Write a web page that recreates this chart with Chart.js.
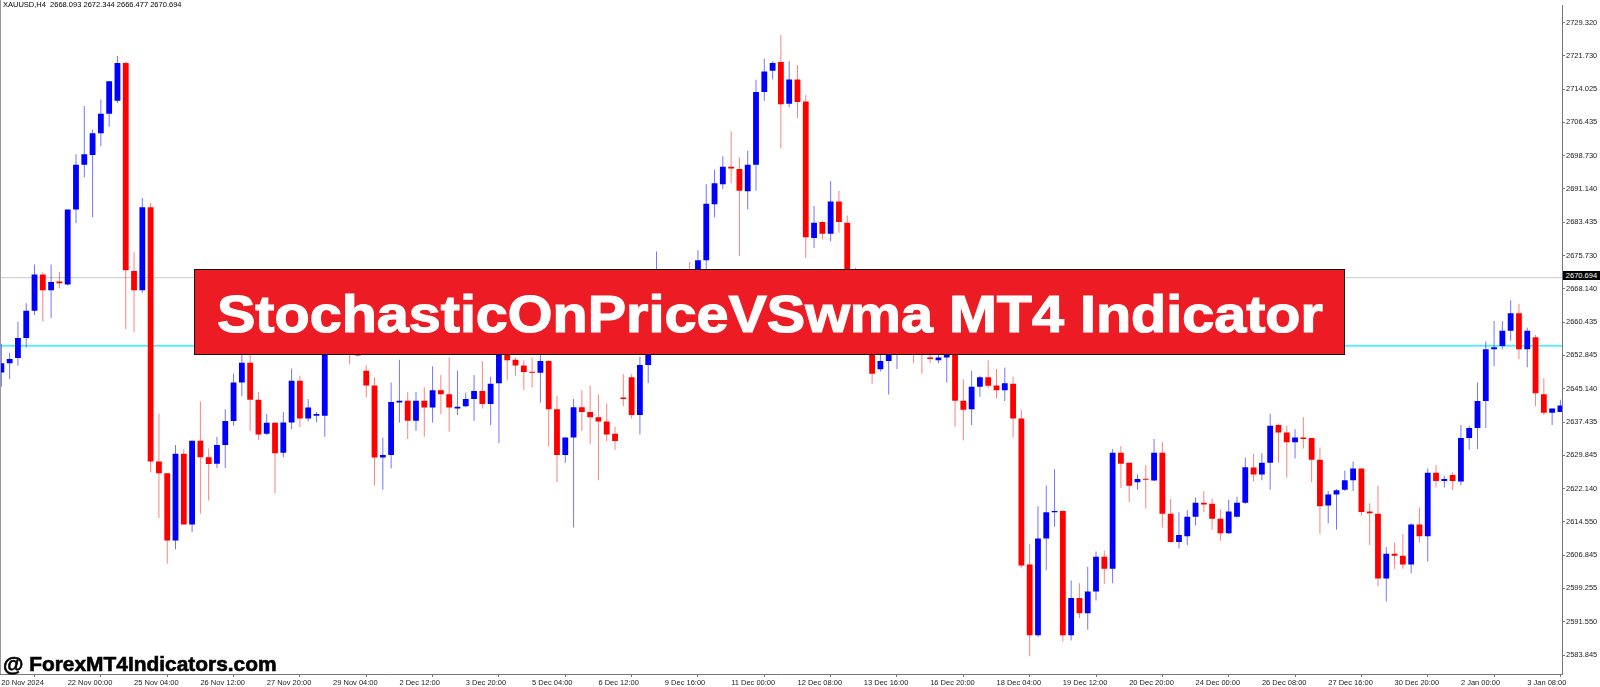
<!DOCTYPE html>
<html>
<head>
<meta charset="utf-8">
<title>XAUUSD,H4</title>
<script src="https://cdn.jsdelivr.net/npm/chart.js@4.4.0/dist/chart.umd.min.js"></script>
<style>
  html, body { margin: 0; padding: 0; background: #fff; }
  #wrap { position: relative; width: 1600px; height: 687px; overflow: hidden; }
  #chart { display: block; }
  .leftedge { position: absolute; left: 0; top: 0; width: 1px; height: 674px; background: #9a9a9a; }
  .hdr {
    position: absolute; left: 3px; top: 0; line-height: 9px;
    font: 7.5px "Liberation Sans", Arial, sans-serif; color: #000; white-space: pre;
  }
  .bidbox {
    position: absolute; left: 1563px; top: 271px; width: 37px; height: 9px;
    background: #000; color: #fff; line-height: 9px; text-align: center;
    font: 7.5px "Liberation Sans", Arial, sans-serif;
  }
  .banner {
    position: absolute; left: 194px; top: 269px; width: 1151px; height: 86px;
    box-sizing: border-box; border: 1px solid #111; background: #ed1c24;
    display: flex; align-items: center; justify-content: center;
  }
  .banner span {
    display: inline-block; position: relative; top: 2px;
    transform: scaleX(1.106);
    color: #fff; font: bold 52px "Liberation Sans", Arial, sans-serif; white-space: nowrap;
    -webkit-text-stroke: 1.2px #fff;
  }
  .mark {
    position: absolute; left: 3px; top: 653px; line-height: 20px;
    transform: scaleX(1.045); transform-origin: 0 0;
    font: bold 20px "Liberation Sans", Arial, sans-serif; color: #000; white-space: nowrap;
    -webkit-text-stroke: 0.6px #000;
  }
</style>
</head>
<body>
<div id="wrap">
  <canvas id="chart" width="1600" height="687"></canvas>
  <div class="leftedge"></div>
  <div class="hdr">XAUUSD,H4  2668.093 2672.344 2666.477 2670.694</div>
  <div class="bidbox">2670.694</div>
  <div class="banner"><span>StochasticOnPriceVSwma MT4 Indicator</span></div>
  <div class="mark">@ ForexMT4Indicators.com</div>
</div>
<script>
// H4 candles, one entry per bar (bar 0 = 20 Nov 2024 16:00)
const opens = [
  2648.9, 2651.0, 2652.2, 2656.8, 2663.1, 2671.4, 2667.8, 2669.8, 2669.1, 2686.4,
  2696.7, 2698.9, 2703.9, 2708.4, 2711.4, 2720.1, 2672.2, 2667.8, 2686.9, 2628.4,
  2625.7, 2610.2, 2630.2, 2613.9, 2633.2, 2629.4, 2627.9, 2632.2, 2637.7, 2646.6,
  2651.1, 2642.6, 2634.8, 2637.3, 2630.4, 2637.4, 2647.0, 2638.3, 2638.9, 2638.9,
  2655.5, 2660.2, 2657.0, 2653.5, 2649.3, 2645.9, 2629.3, 2629.9, 2642.0, 2642.4,
  2637.8, 2642.4, 2640.8, 2644.8, 2643.9, 2640.6, 2641.1, 2642.8, 2644.6, 2641.6,
  2646.4, 2653.0, 2651.8, 2650.5, 2649.0, 2648.8, 2651.5, 2640.4, 2629.9, 2633.9,
  2640.9, 2639.8, 2638.6, 2637.6, 2634.8, 2643.1, 2647.8, 2639.1, 2650.6, 2656.5,
  2663.0, 2661.0, 2665.5, 2670.5, 2671.5, 2674.7, 2687.6, 2692.2, 2696.2, 2695.7,
  2690.6, 2696.7, 2713.4, 2718.3, 2720.3, 2710.7, 2716.3, 2711.2, 2679.8, 2683.5,
  2680.8, 2688.2, 2683.3, 2664.0, 2659.5, 2656.0, 2649.6, 2651.5, 2653.5, 2656.0,
  2657.5, 2654.0, 2652.3, 2651.7, 2652.3, 2655.5, 2642.4, 2640.4, 2645.6, 2647.8,
  2645.9, 2644.8, 2646.3, 2638.3, 2604.7, 2588.4, 2610.7, 2616.7, 2617.0, 2588.4,
  2597.0, 2593.5, 2598.5, 2606.5, 2603.7, 2630.4, 2628.1, 2623.6, 2624.4, 2624.0,
  2630.4, 2616.4, 2609.9, 2611.2, 2615.7, 2618.9, 2618.7, 2615.2, 2611.9, 2615.7,
  2618.9, 2627.0, 2625.4, 2628.1, 2636.8, 2635.1, 2632.8, 2633.9, 2633.8, 2628.8,
  2618.3, 2620.8, 2621.9, 2624.1, 2626.8, 2616.9, 2616.4, 2601.5, 2607.2, 2606.7,
  2604.7, 2613.9, 2611.2, 2625.8, 2623.9, 2625.3, 2623.8, 2633.8, 2636.1, 2642.3,
  2654.2, 2655.0, 2658.5, 2662.5, 2654.2, 2657.0, 2643.9, 2639.6, 2639.8
];
const highs = [
  2655.5, 2653.4, 2660.6, 2664.8, 2673.7, 2671.9, 2673.7, 2672.0, 2686.4, 2699.1,
  2710.2, 2704.7, 2711.7, 2715.9, 2721.7, 2720.4, 2676.6, 2689.0, 2687.9, 2639.4,
  2625.7, 2632.2, 2631.2, 2633.2, 2642.2, 2631.4, 2634.1, 2640.4, 2648.6, 2653.0,
  2653.0, 2644.4, 2639.3, 2637.5, 2639.8, 2649.8, 2648.1, 2642.8, 2639.8, 2657.0,
  2663.0, 2662.5, 2659.0, 2656.0, 2650.5, 2647.8, 2633.9, 2646.6, 2651.8, 2644.4,
  2644.4, 2645.4, 2650.3, 2648.3, 2652.3, 2649.3, 2644.3, 2648.3, 2651.5, 2647.9,
  2654.5, 2654.0, 2652.3, 2651.7, 2652.3, 2653.5, 2651.7, 2643.6, 2633.9, 2642.8,
  2644.8, 2645.9, 2643.8, 2641.8, 2636.4, 2648.5, 2648.5, 2652.5, 2658.5, 2676.7,
  2667.0, 2668.5, 2672.3, 2674.3, 2677.0, 2692.2, 2695.6, 2698.6, 2704.4, 2698.4,
  2699.9, 2716.2, 2721.1, 2720.5, 2726.5, 2720.5, 2719.6, 2712.7, 2687.2, 2683.7,
  2692.9, 2690.7, 2685.0, 2673.0, 2662.0, 2658.0, 2653.0, 2655.0, 2658.0, 2660.5,
  2659.0, 2656.0, 2654.5, 2654.0, 2657.0, 2656.5, 2647.3, 2649.3, 2648.1, 2651.7,
  2649.7, 2650.0, 2647.9, 2640.3, 2609.5, 2618.1, 2622.9, 2626.6, 2617.2, 2601.0,
  2600.4, 2604.2, 2607.7, 2607.9, 2631.3, 2631.9, 2628.1, 2625.4, 2627.6, 2633.6,
  2632.8, 2619.8, 2616.7, 2617.2, 2620.1, 2621.6, 2619.9, 2617.4, 2619.6, 2620.3,
  2629.3, 2630.1, 2630.3, 2639.4, 2637.1, 2636.6, 2635.8, 2638.6, 2633.8, 2631.6,
  2621.6, 2622.1, 2626.3, 2628.4, 2626.8, 2618.8, 2622.8, 2608.7, 2609.7, 2611.7,
  2614.2, 2617.8, 2626.8, 2627.6, 2625.1, 2625.9, 2636.8, 2636.6, 2646.6, 2656.0,
  2660.7, 2660.7, 2665.5, 2664.7, 2659.2, 2657.5, 2647.6, 2640.6, 2642.6
];
const lows = [
  2645.6, 2647.4, 2650.4, 2654.6, 2662.1, 2660.6, 2661.4, 2668.2, 2668.9, 2683.2,
  2693.8, 2684.6, 2700.9, 2705.4, 2710.9, 2658.9, 2658.2, 2667.2, 2625.9, 2615.4,
  2604.9, 2608.2, 2613.9, 2612.2, 2616.4, 2619.4, 2626.9, 2626.9, 2636.6, 2643.4,
  2635.4, 2633.4, 2634.5, 2621.1, 2629.4, 2635.8, 2636.3, 2637.6, 2637.4, 2634.1,
  2654.0, 2655.0, 2650.8, 2652.6, 2643.1, 2622.9, 2621.9, 2626.8, 2637.3, 2633.6,
  2635.4, 2634.1, 2637.3, 2639.3, 2635.3, 2639.1, 2640.9, 2637.8, 2640.6, 2636.8,
  2632.6, 2647.1, 2648.1, 2644.8, 2645.4, 2641.9, 2631.9, 2623.6, 2628.1, 2613.2,
  2635.4, 2632.4, 2624.1, 2633.1, 2631.1, 2641.1, 2638.3, 2634.6, 2646.4, 2655.0,
  2658.0, 2659.5, 2663.0, 2665.5, 2669.0, 2672.3, 2684.6, 2691.1, 2692.4, 2675.7,
  2686.4, 2690.7, 2711.4, 2716.3, 2700.4, 2709.9, 2707.4, 2675.3, 2677.5, 2679.5,
  2679.0, 2681.0, 2661.0, 2657.0, 2653.5, 2646.3, 2649.1, 2643.8, 2649.7, 2653.0,
  2651.0, 2648.6, 2651.0, 2651.0, 2646.6, 2636.4, 2633.3, 2636.8, 2643.3, 2645.3,
  2642.9, 2642.3, 2633.9, 2604.0, 2583.6, 2588.0, 2603.4, 2613.4, 2587.0, 2587.2,
  2592.4, 2589.7, 2596.4, 2600.2, 2600.4, 2622.3, 2619.1, 2621.9, 2617.6, 2623.9,
  2613.2, 2609.7, 2608.4, 2609.2, 2613.7, 2616.7, 2612.7, 2610.2, 2611.7, 2615.5,
  2618.6, 2623.8, 2624.1, 2621.9, 2628.1, 2624.8, 2629.1, 2631.4, 2623.6, 2611.7,
  2614.2, 2612.7, 2621.6, 2621.6, 2615.9, 2609.2, 2599.7, 2596.2, 2603.7, 2603.7,
  2602.7, 2609.7, 2605.4, 2622.4, 2622.4, 2621.8, 2622.9, 2631.1, 2631.3, 2636.1,
  2650.3, 2654.2, 2656.2, 2652.0, 2650.1, 2641.1, 2639.1, 2636.8, 2639.8
];
const closes = [
  2651.0, 2652.0, 2656.8, 2663.1, 2671.4, 2667.8, 2669.7, 2669.4, 2686.4, 2696.7,
  2699.1, 2703.9, 2708.4, 2715.9, 2720.1, 2672.4, 2667.8, 2686.9, 2628.4, 2625.7,
  2610.2, 2630.2, 2613.9, 2633.2, 2629.4, 2627.8, 2632.2, 2637.7, 2646.6, 2651.1,
  2642.6, 2634.6, 2637.3, 2630.3, 2637.4, 2647.0, 2638.3, 2640.8, 2639.3, 2655.5,
  2660.2, 2657.0, 2653.5, 2652.8, 2645.9, 2629.3, 2629.9, 2642.1, 2642.4, 2637.8,
  2642.4, 2640.8, 2644.8, 2643.9, 2640.8, 2641.0, 2642.8, 2644.6, 2641.6, 2646.3,
  2653.0, 2651.7, 2650.5, 2649.0, 2648.8, 2651.5, 2640.4, 2629.9, 2633.9, 2640.9,
  2639.8, 2638.6, 2637.6, 2634.6, 2633.1, 2642.8, 2639.1, 2650.6, 2656.5, 2663.0,
  2661.0, 2665.5, 2670.5, 2668.0, 2674.7, 2687.7, 2692.4, 2696.2, 2695.8, 2690.7,
  2696.7, 2713.4, 2718.1, 2720.1, 2710.6, 2716.3, 2711.1, 2680.0, 2683.3, 2680.8,
  2688.2, 2683.5, 2664.0, 2659.5, 2656.0, 2648.6, 2651.5, 2653.5, 2656.0, 2657.5,
  2654.0, 2653.0, 2652.0, 2652.3, 2655.5, 2642.4, 2640.3, 2645.6, 2647.8, 2645.8,
  2644.8, 2646.4, 2638.3, 2604.5, 2588.4, 2610.7, 2616.7, 2617.0, 2588.4, 2597.0,
  2593.5, 2598.5, 2606.5, 2603.7, 2630.4, 2627.9, 2622.8, 2624.4, 2624.2, 2630.4,
  2616.4, 2609.9, 2611.5, 2615.7, 2618.9, 2618.5, 2615.2, 2611.9, 2616.9, 2618.9,
  2627.1, 2625.4, 2628.1, 2636.6, 2635.1, 2632.8, 2633.9, 2633.6, 2628.8, 2618.1,
  2620.8, 2621.8, 2624.1, 2626.8, 2616.8, 2616.5, 2601.5, 2607.2, 2606.7, 2604.7,
  2613.9, 2611.2, 2625.8, 2623.9, 2624.4, 2623.9, 2633.8, 2636.1, 2642.3, 2654.2,
  2654.7, 2658.5, 2662.5, 2654.2, 2658.5, 2644.1, 2639.6, 2640.6, 2641.3
];

// time axis labels, one every 8 bars
const xTickBars = [0, 8, 16, 24, 32, 40, 48, 56, 64, 72, 80, 88, 96, 104, 112, 120, 128, 136, 144, 152, 160, 168, 176, 184];
const xTickLabels = [
  '20 Nov 2024', '22 Nov 00:00', '25 Nov 04:00', '26 Nov 12:00', '27 Nov 20:00', '29 Nov 04:00',
  '2 Dec 12:00', '3 Dec 20:00', '5 Dec 04:00', '6 Dec 12:00', '9 Dec 16:00', '11 Dec 00:00',
  '12 Dec 08:00', '13 Dec 16:00', '16 Dec 20:00', '18 Dec 04:00', '19 Dec 12:00', '20 Dec 20:00',
  '24 Dec 00:00', '26 Dec 08:00', '27 Dec 16:00', '30 Dec 20:00', '2 Jan 00:00', '3 Jan 08:00'
];

// price scale labels
const yTickValues = [
  2729.320, 2721.730, 2714.025, 2706.435, 2698.730, 2691.140, 2683.435, 2675.730, 2668.140, 2660.435,
  2652.845, 2645.140, 2637.435, 2629.845, 2622.140, 2614.550, 2606.845, 2599.255, 2591.550, 2583.845
];

const bidPrice = 2670.694;   // grey bid line
const levelPrice = 2655.0;   // cyan horizontal level

// visible window of the chart
const X_MIN = -0.163, X_MAX = 188.19;
const Y_MIN = 2579.51, Y_MAX = 2733.31;

const BULL = '#0000ff', BEAR = '#ff0000';
const BULL_WICK = 'rgba(0,0,255,0.55)', BEAR_WICK = 'rgba(255,0,0,0.5)';

const isBull = (i) => closes[i] >= opens[i];

const tickFont = { family: '"Liberation Sans", Arial, sans-serif', size: 7.5 };

const levelData = (price) => [{ x: X_MIN, y: price }, { x: X_MAX, y: price }];

new Chart(document.getElementById('chart'), {
  type: 'bar',
  data: {
    datasets: [
      {
        type: 'line', label: 'bid', data: levelData(bidPrice),
        borderColor: '#c8c8c8', borderWidth: 1, pointRadius: 0, order: 3
      },
      {
        type: 'line', label: 'level', data: levelData(levelPrice),
        borderColor: '#00f2ff', borderWidth: 1.2, pointRadius: 0, order: 3
      },
      {
        label: 'wicks',
        data: lows.map((l, i) => ({ x: i, y: [l, highs[i]] })),
        backgroundColor: (c) => isBull(c.dataIndex) ? BULL_WICK : BEAR_WICK,
        borderWidth: 0, grouped: false,
        categoryPercentage: 1, barPercentage: 0.12, maxBarThickness: 1,
        order: 2
      },
      {
        label: 'bodies',
        data: opens.map((o, i) => ({ x: i, y: [o, closes[i]] })),
        backgroundColor: (c) => isBull(c.dataIndex) ? BULL : BEAR,
        borderWidth: 0, grouped: false, minBarLength: 1,
        categoryPercentage: 1, barPercentage: 0.7, maxBarThickness: 6,
        order: 1
      }
    ]
  },
  options: {
    responsive: false,
    animation: false,
    layout: { padding: 0 },
    plugins: { legend: { display: false }, tooltip: { enabled: false } },
    scales: {
      x: {
        type: 'linear', min: X_MIN, max: X_MAX, offset: false,
        afterFit: (s) => { s.height = 13; },
        afterBuildTicks: (s) => { s.ticks = xTickBars.map(v => ({ value: v })); },
        ticks: {
          autoSkip: false, maxRotation: 0, align: 'start', padding: 1,
          color: '#222', font: tickFont,
          callback: (v, i) => xTickLabels[i]
        },
        grid: { drawOnChartArea: false, tickLength: 3, color: '#777' },
        border: { color: '#777' }
      },
      y: {
        type: 'linear', position: 'right', min: Y_MIN, max: Y_MAX,
        afterFit: (s) => { s.width = 38; },
        afterBuildTicks: (s) => { s.ticks = yTickValues.map(v => ({ value: v })); },
        ticks: {
          autoSkip: false, padding: 1, color: '#222', font: tickFont,
          callback: (v) => Number(v).toFixed(3)
        },
        grid: { drawOnChartArea: false, tickLength: 3, color: '#777' },
        border: { color: '#777' }
      }
    }
  }
});
</script>
</body>
</html>
